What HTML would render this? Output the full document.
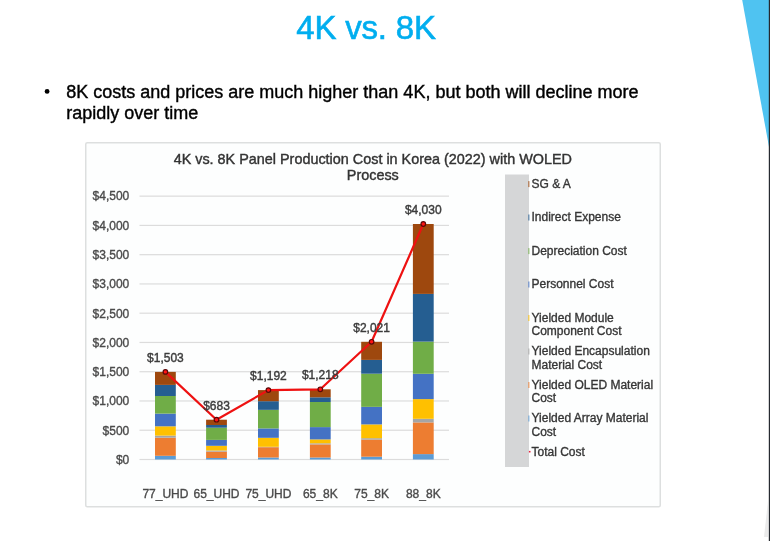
<!DOCTYPE html>
<html><head><meta charset="utf-8">
<style>
html,body{margin:0;padding:0;background:#fff;}
body{width:770px;height:541px;overflow:hidden;position:relative;font-family:"Liberation Sans",sans-serif;}
svg{position:absolute;left:0;top:0;will-change:transform;}
.ax{font-family:"Liberation Sans",sans-serif;font-size:12px;fill:#4A4A4A;stroke:#4A4A4A;stroke-width:0.35px;}
.dl{font-family:"Liberation Sans",sans-serif;font-size:12px;fill:#3C3C3C;stroke:#3C3C3C;stroke-width:0.4px;}
.lg{font-family:"Liberation Sans",sans-serif;font-size:12px;fill:#363636;stroke:#363636;stroke-width:0.35px;}
.ct{font-family:"Liberation Sans",sans-serif;font-size:14.4px;fill:#333;stroke:#333;stroke-width:0.4px;}
</style></head><body>
<svg width="770" height="541" viewBox="0 0 770 541">
<text x="366" y="39" text-anchor="middle" style="font-family:'Liberation Sans',sans-serif;font-size:33px;letter-spacing:-0.2px;fill:#00AEEF;stroke:#00AEEF;stroke-width:0.6px">4K vs. 8K</text>
<circle cx="47.1" cy="91.4" r="2.4" fill="#000"/>
<text x="66.2" y="97.9" style="font-family:'Liberation Sans',sans-serif;font-size:18px;fill:#000;stroke:#000;stroke-width:0.4px">8K costs and prices are much higher than 4K, but both will decline more</text>
<text x="66.2" y="118.7" style="font-family:'Liberation Sans',sans-serif;font-size:18px;fill:#000;stroke:#000;stroke-width:0.4px">rapidly over time</text>
<rect x="85.75" y="142.75" width="574.5" height="364" fill="#FDFEFE" stroke="#DDDFDF" stroke-width="1.5" rx="1.5"/>
<rect x="139.5" y="458.90" width="309.5" height="1.2" fill="#DCDCDC"/>
<rect x="139.5" y="429.64" width="309.5" height="1.2" fill="#DCDCDC"/>
<rect x="139.5" y="400.38" width="309.5" height="1.2" fill="#DCDCDC"/>
<rect x="139.5" y="371.12" width="309.5" height="1.2" fill="#DCDCDC"/>
<rect x="139.5" y="341.86" width="309.5" height="1.2" fill="#DCDCDC"/>
<rect x="139.5" y="312.60" width="309.5" height="1.2" fill="#DCDCDC"/>
<rect x="139.5" y="283.34" width="309.5" height="1.2" fill="#DCDCDC"/>
<rect x="139.5" y="254.08" width="309.5" height="1.2" fill="#DCDCDC"/>
<rect x="139.5" y="224.82" width="309.5" height="1.2" fill="#DCDCDC"/>
<rect x="139.5" y="195.56" width="309.5" height="1.2" fill="#DCDCDC"/>
<text x="129.3" y="463.80" text-anchor="end" class="ax">$0</text>
<text x="129.3" y="434.54" text-anchor="end" class="ax">$500</text>
<text x="129.3" y="405.28" text-anchor="end" class="ax">$1,000</text>
<text x="129.3" y="376.02" text-anchor="end" class="ax">$1,500</text>
<text x="129.3" y="346.76" text-anchor="end" class="ax">$2,000</text>
<text x="129.3" y="317.50" text-anchor="end" class="ax">$2,500</text>
<text x="129.3" y="288.24" text-anchor="end" class="ax">$3,000</text>
<text x="129.3" y="258.98" text-anchor="end" class="ax">$3,500</text>
<text x="129.3" y="229.72" text-anchor="end" class="ax">$4,000</text>
<text x="129.3" y="200.46" text-anchor="end" class="ax">$4,500</text>
<rect x="155.0" y="455.8" width="20.8" height="3.70" fill="#5B9BD5"/>
<rect x="155.0" y="437.7" width="20.8" height="18.10" fill="#ED7D31"/>
<rect x="155.0" y="435.6" width="20.8" height="2.10" fill="#A5A5A5"/>
<rect x="155.0" y="426.3" width="20.8" height="9.30" fill="#FFC000"/>
<rect x="155.0" y="413.6" width="20.8" height="12.70" fill="#4472C4"/>
<rect x="155.0" y="396.0" width="20.8" height="17.60" fill="#70AD47"/>
<rect x="155.0" y="384.9" width="20.8" height="11.10" fill="#255E91"/>
<rect x="155.0" y="371.9" width="20.8" height="13.00" fill="#9E480E"/>
<rect x="206.1" y="458.0" width="20.8" height="1.50" fill="#5B9BD5"/>
<rect x="206.1" y="451.6" width="20.8" height="6.40" fill="#ED7D31"/>
<rect x="206.1" y="450.5" width="20.8" height="1.10" fill="#A5A5A5"/>
<rect x="206.1" y="445.8" width="20.8" height="4.70" fill="#FFC000"/>
<rect x="206.1" y="439.9" width="20.8" height="5.90" fill="#4472C4"/>
<rect x="206.1" y="427.7" width="20.8" height="12.20" fill="#70AD47"/>
<rect x="206.1" y="425.0" width="20.8" height="2.70" fill="#255E91"/>
<rect x="206.1" y="419.7" width="20.8" height="5.30" fill="#9E480E"/>
<rect x="258.0" y="457.5" width="20.8" height="2.00" fill="#5B9BD5"/>
<rect x="258.0" y="447.2" width="20.8" height="10.30" fill="#ED7D31"/>
<rect x="258.0" y="446.8" width="20.8" height="0.40" fill="#A5A5A5"/>
<rect x="258.0" y="437.8" width="20.8" height="9.00" fill="#FFC000"/>
<rect x="258.0" y="428.4" width="20.8" height="9.40" fill="#4472C4"/>
<rect x="258.0" y="409.85" width="20.8" height="18.55" fill="#70AD47"/>
<rect x="258.0" y="401.2" width="20.8" height="8.65" fill="#255E91"/>
<rect x="258.0" y="390.1" width="20.8" height="11.10" fill="#9E480E"/>
<rect x="309.9" y="457.5" width="20.8" height="2.00" fill="#5B9BD5"/>
<rect x="309.9" y="444.4" width="20.8" height="13.10" fill="#ED7D31"/>
<rect x="309.9" y="443.3" width="20.8" height="1.10" fill="#A5A5A5"/>
<rect x="309.9" y="439.4" width="20.8" height="3.90" fill="#FFC000"/>
<rect x="309.9" y="427.1" width="20.8" height="12.30" fill="#4472C4"/>
<rect x="309.9" y="402.0" width="20.8" height="25.10" fill="#70AD47"/>
<rect x="309.9" y="397.3" width="20.8" height="4.70" fill="#255E91"/>
<rect x="309.9" y="389.3" width="20.8" height="8.00" fill="#9E480E"/>
<rect x="361.2" y="456.7" width="20.8" height="2.80" fill="#5B9BD5"/>
<rect x="361.2" y="439.6" width="20.8" height="17.10" fill="#ED7D31"/>
<rect x="361.2" y="438.2" width="20.8" height="1.40" fill="#A5A5A5"/>
<rect x="361.2" y="424.4" width="20.8" height="13.80" fill="#FFC000"/>
<rect x="361.2" y="406.85" width="20.8" height="17.55" fill="#4472C4"/>
<rect x="361.2" y="373.7" width="20.8" height="33.15" fill="#70AD47"/>
<rect x="361.2" y="359.9" width="20.8" height="13.80" fill="#255E91"/>
<rect x="361.2" y="341.8" width="20.8" height="18.10" fill="#9E480E"/>
<rect x="412.9" y="454.1" width="20.8" height="5.40" fill="#5B9BD5"/>
<rect x="412.9" y="422.4" width="20.8" height="31.70" fill="#ED7D31"/>
<rect x="412.9" y="418.8" width="20.8" height="3.60" fill="#A5A5A5"/>
<rect x="412.9" y="399.1" width="20.8" height="19.70" fill="#FFC000"/>
<rect x="412.9" y="373.8" width="20.8" height="25.30" fill="#4472C4"/>
<rect x="412.9" y="341.6" width="20.8" height="32.20" fill="#70AD47"/>
<rect x="412.9" y="293.9" width="20.8" height="47.70" fill="#255E91"/>
<rect x="412.9" y="224.0" width="20.8" height="69.90" fill="#9E480E"/>
<text x="165.40" y="497.8" text-anchor="middle" class="ax">77_UHD</text>
<text x="216.50" y="497.8" text-anchor="middle" class="ax">65_UHD</text>
<text x="268.40" y="497.8" text-anchor="middle" class="ax">75_UHD</text>
<text x="320.30" y="497.8" text-anchor="middle" class="ax">65_8K</text>
<text x="371.60" y="497.8" text-anchor="middle" class="ax">75_8K</text>
<text x="423.30" y="497.8" text-anchor="middle" class="ax">88_8K</text>
<polyline points="165.40,371.90 216.50,419.70 268.40,390.10 320.30,389.30 371.60,341.80 423.30,224.00" fill="none" stroke="#EE1111" stroke-width="2.2" stroke-linejoin="round"/>
<circle cx="165.40" cy="371.90" r="2.3" fill="#FF1414" stroke="#5A0808" stroke-width="1.2"/>
<circle cx="216.50" cy="419.70" r="2.3" fill="#FF1414" stroke="#5A0808" stroke-width="1.2"/>
<circle cx="268.40" cy="390.10" r="2.3" fill="#FF1414" stroke="#5A0808" stroke-width="1.2"/>
<circle cx="320.30" cy="389.30" r="2.3" fill="#FF1414" stroke="#5A0808" stroke-width="1.2"/>
<circle cx="371.60" cy="341.80" r="2.3" fill="#FF1414" stroke="#5A0808" stroke-width="1.2"/>
<circle cx="423.30" cy="224.00" r="2.3" fill="#FF1414" stroke="#5A0808" stroke-width="1.2"/>
<text x="165.40" y="361.70" text-anchor="middle" class="dl">$1,503</text>
<text x="216.50" y="409.50" text-anchor="middle" class="dl">$683</text>
<text x="268.40" y="379.90" text-anchor="middle" class="dl">$1,192</text>
<text x="320.30" y="379.10" text-anchor="middle" class="dl">$1,218</text>
<text x="371.60" y="331.60" text-anchor="middle" class="dl">$2,021</text>
<text x="423.30" y="213.80" text-anchor="middle" class="dl">$4,030</text>
<rect x="505" y="174.5" width="24" height="292.5" fill="#D5D6D7"/>
<rect x="528.3" y="181.10" width="1.1" height="6" fill="#9E480E" opacity="0.8"/>
<text x="531.5" y="187.60" class="lg">SG &amp; A</text>
<rect x="528.3" y="214.50" width="1.1" height="6" fill="#255E91" opacity="0.8"/>
<text x="531.5" y="221.00" class="lg">Indirect Expense</text>
<rect x="528.3" y="248.10" width="1.1" height="6" fill="#70AD47" opacity="0.8"/>
<text x="531.5" y="254.60" class="lg">Depreciation Cost</text>
<rect x="528.3" y="281.50" width="1.1" height="6" fill="#4472C4" opacity="0.8"/>
<text x="531.5" y="288.00" class="lg">Personnel Cost</text>
<rect x="528.3" y="315.00" width="1.1" height="6" fill="#FFC000" opacity="0.8"/>
<text x="531.5" y="321.50" class="lg">Yielded Module</text>
<text x="531.5" y="335.30" class="lg">Component Cost</text>
<rect x="528.3" y="348.50" width="1.1" height="6" fill="#A5A5A5" opacity="0.8"/>
<text x="531.5" y="355.00" class="lg">Yielded Encapsulation</text>
<text x="531.5" y="368.80" class="lg">Material Cost</text>
<rect x="528.3" y="382.00" width="1.1" height="6" fill="#ED7D31" opacity="0.8"/>
<text x="531.5" y="388.50" class="lg">Yielded OLED Material</text>
<text x="531.5" y="402.30" class="lg">Cost</text>
<rect x="528.3" y="415.50" width="1.1" height="6" fill="#5B9BD5" opacity="0.8"/>
<text x="531.5" y="422.00" class="lg">Yielded Array Material</text>
<text x="531.5" y="435.80" class="lg">Cost</text>
<rect x="528.9" y="450.90" width="1.6" height="1.6" fill="#E8203A"/>
<text x="531.5" y="455.50" class="lg">Total Cost</text>
<text x="372.8" y="163.7" text-anchor="middle" class="ct">4K vs. 8K Panel Production Cost in Korea (2022) with WOLED</text>
<text x="372.8" y="180.3" text-anchor="middle" class="ct">Process</text>
<polygon points="742.2,0 769,0 769,147" fill="#4FC3F1"/>
<polygon points="768,501 768,537 764,537" fill="#EBEBEB"/>
<rect x="768.8" y="0" width="1.2" height="541" fill="#262A30"/>
</svg>
</body></html>
